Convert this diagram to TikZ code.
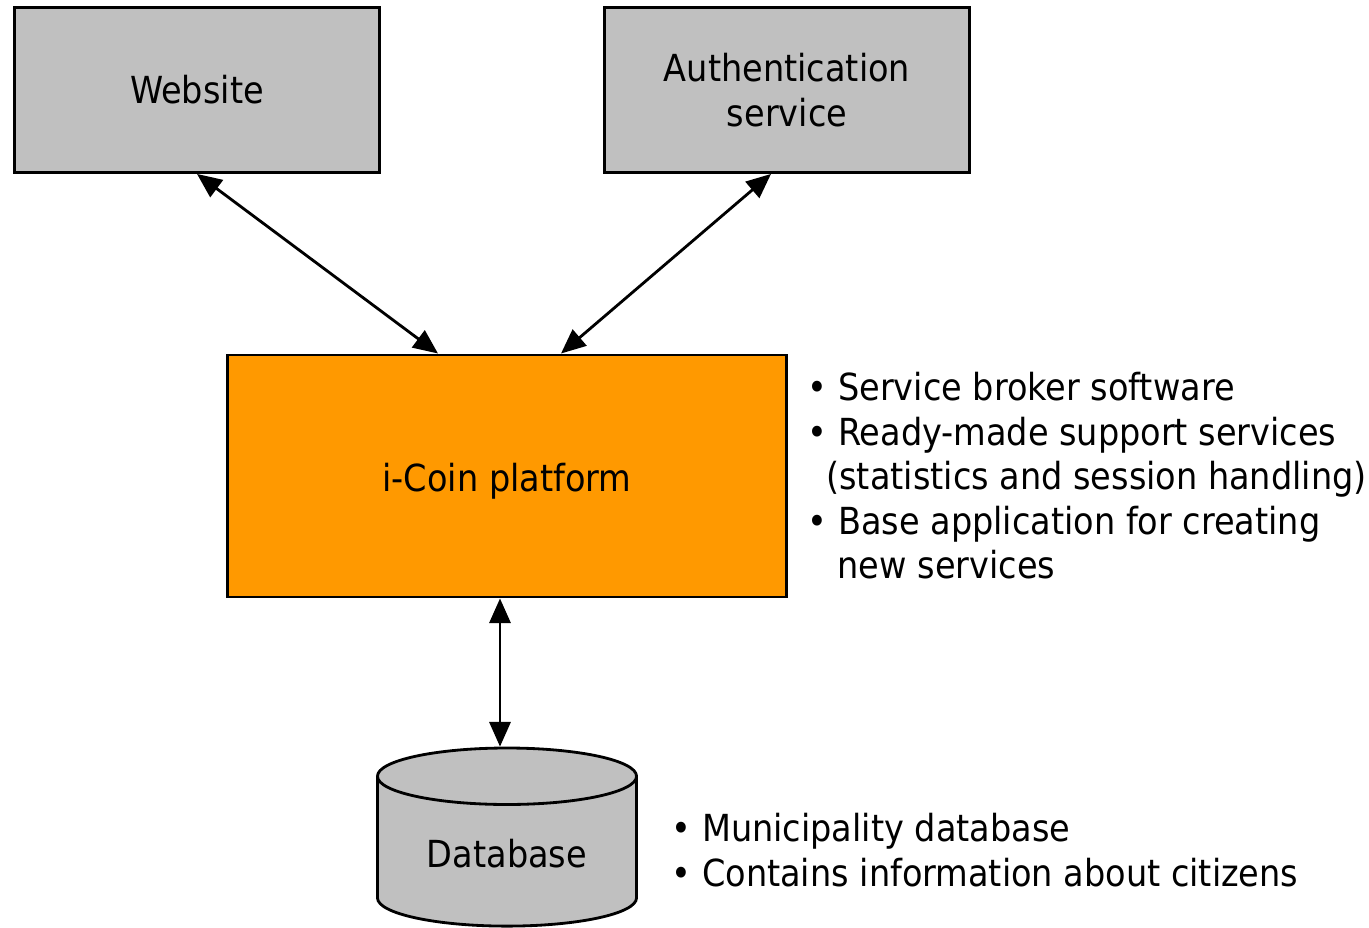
\documentclass[tikz,border=0pt]{standalone}
\usepackage{fontspec}
\setmainfont{DejaVu Sans Condensed}
\usetikzlibrary{shapes.geometric,arrows.meta,positioning}
\definecolor{boxgray}{RGB}{192,192,192}
\definecolor{coinorange}{RGB}{255,153,0}
\tikzstyle{sistema} = [draw=black, fill=boxgray, thick, rectangle, minimum width=3.64cm, minimum height=1.65cm, align=center, inner sep=0pt]
\tikzstyle{plataforma} = [draw=black, fill=coinorange, thick, rectangle, minimum width=5.59cm, minimum height=2.42cm, inner sep=0pt]
\tikzstyle{basedatos} = [draw=black, fill=boxgray, thick, cylinder, shape border rotate=90, aspect=0.218, minimum width=2.57cm, minimum height=1.78cm, inner xsep=0.495cm, inner ysep=0pt]
\tikzstyle{lista} = [align=left, inner sep=0pt, anchor=west]
\tikzstyle{enlace} = [thick, {Triangle[length=7pt,width=6pt]}-{Triangle[length=7pt,width=6pt]}]

\begin{document}
\begin{tikzpicture}[x=0.01cm, y=-0.01cm, font=\fontsize{10.6}{12.66}\selectfont]
	\useasboundingbox (0,0) rectangle (1369,928);
	\node [sistema] (web) at (197,90) {Website};
	\node [sistema] (auth) at (787,90) {Authentication\\service};
	\node [plataforma] (coin) at (507,476) {\raisebox{-0.75ex}[0pt][0pt]{i-Coin platform}};
	\node [basedatos] (db) at (507,863) {\raisebox{-0.2ex}[0pt][0pt]{Database}};
	\node [lista, right=0.19cm of coin] (ventajas) {%
		• Service broker software\\
		• Ready-made support services\\
		\hspace{0.5em}(statistics and session handling)\\
		• Base application for creating\\
		\hspace{0.8em}new services};
	\node [lista] (datos) at (671,850) {%
		• Municipality database\\
		• Contains information about citizens};
	\draw [enlace] (web.south) -- (coin.north west -| 438,0);
	\draw [enlace] (auth.south -| 771,0) -- (coin.north -| 561,0);
	\draw [enlace] (coin.south -| 500,0) -- (db.north -| 500,0);
\end{tikzpicture}
\end{document}
